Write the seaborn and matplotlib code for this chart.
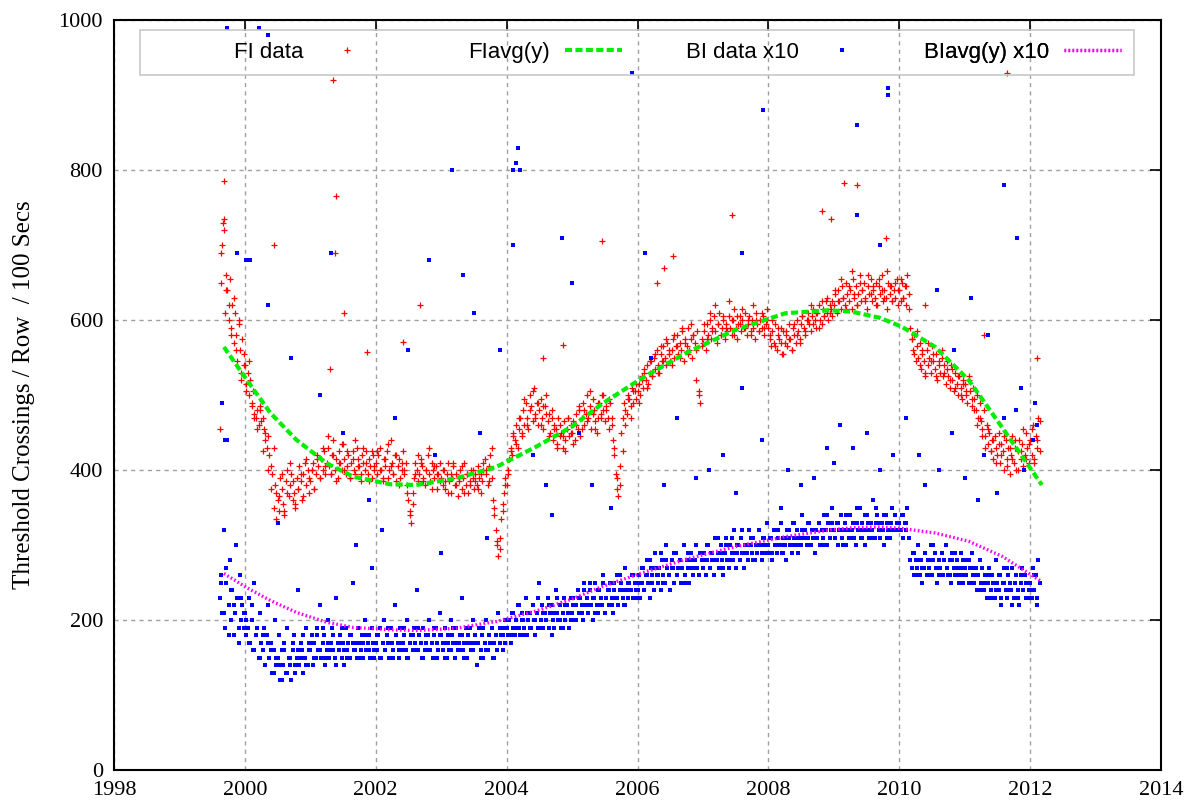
import numpy as np
import pandas as pd
import seaborn as sns
import matplotlib.pyplot as plt
from matplotlib.lines import Line2D
from matplotlib.patches import Rectangle

# FI readings, roughly weekly, one list per year
fi_1999 = [455, 650, 700, 735, 610, 660, 640, 600, 655, 590, 620, 570, 610, 580, 545, 600, 560, 530, 575, 540]
fi_2000 = [540, 515, 530, 500, 520, 490, 505, 475, 470, 480, 460, 485, 465, 470, 455, 440, 430, 445, 420, 405,
           395, 430, 380, 370, 360, 345, 390, 375, 355, 340, 385, 400, 365, 380, 395, 360, 370, 350, 390, 375,
           405, 385, 360, 395, 410, 380, 400, 370]
fi_2001 = [385, 400, 410, 375, 395, 420, 405, 390, 415, 400, 425, 395, 410, 430, 405, 395, 420, 440, 400, 415,
           390, 425, 410, 400, 435, 415, 395, 405, 420, 390, 410, 425, 400, 395, 430, 415, 405, 385, 420, 410,
           400, 425, 395, 415, 405, 390, 420, 400]
fi_2002 = [410, 395, 420, 430, 400, 385, 415, 405, 425, 390, 400, 440, 410, 395, 420, 385, 405, 415, 390, 400,
           425, 395, 410, 380, 360, 345, 330, 370, 390, 410, 400, 385, 395, 415, 405, 390, 380, 400, 420, 395,
           385, 410, 400, 390, 405, 375, 395, 410]
fi_2003 = [390, 380, 400, 375, 395, 410, 385, 370, 390, 405, 380, 395, 365, 385, 400, 375, 390, 410, 380, 395,
           370, 385, 400, 390, 375, 395, 380, 405, 390, 370, 385, 400, 415, 395, 380, 405, 420, 390, 360, 340,
           320, 300, 285, 310, 335, 355, 370, 390]
fi_2004 = [380, 400, 415, 430, 420, 445, 440, 460, 430, 455, 470, 445, 480, 460, 490, 470, 455, 500, 485, 465,
           510, 475, 490, 460, 480, 495, 470, 455, 485, 500, 465, 475, 450, 470, 440, 460, 455, 435, 470, 445,
           450, 430, 465, 440, 455, 470, 445, 460]
fi_2005 = [450, 465, 440, 475, 455, 480, 445, 470, 490, 460, 475, 500, 470, 485, 455, 495, 480, 465, 450, 470,
           490, 475, 500, 480, 465, 485, 470, 455, 490, 460, 440, 420, 395, 375, 365, 405, 450, 470, 490, 480,
           475, 500, 495, 485, 510, 490, 505, 515]
fi_2006 = [505, 515, 500, 525, 510, 535, 520, 540, 515, 530, 545, 525, 550, 535, 560, 540, 530, 555, 545, 565,
           550, 540, 570, 555, 545, 560, 575, 550, 565, 580, 555, 570, 560, 585, 545, 575, 565, 590, 560, 575,
           550, 580, 570, 560, 585, 500, 490, 575]
fi_2007 = [570, 585, 560, 595, 580, 600, 575, 590, 605, 585, 570, 595, 610, 580, 590, 600, 575, 595, 585, 605,
           590, 580, 600, 615, 590, 575, 595, 605, 585, 600, 590, 610, 580, 595, 605, 585, 600, 590, 575, 610,
           595, 585, 600, 590, 605, 580, 595, 600]
fi_2008 = [590, 575, 565, 585, 570, 595, 560, 580, 575, 590, 555, 585, 570, 580, 565, 595, 575, 560, 590, 580,
           570, 600, 585, 575, 595, 605, 590, 580, 600, 610, 595, 585, 605, 615, 600, 590, 610, 620, 600, 595,
           615, 605, 625, 610, 600, 620, 615, 605]
fi_2009 = [620, 635, 610, 640, 625, 615, 645, 630, 620, 650, 635, 625, 640, 615, 655, 630, 645, 620, 635, 660,
           625, 640, 650, 630, 615, 645, 635, 655, 625, 640, 630, 650, 620, 645, 635, 660, 625, 640, 630, 615,
           650, 635, 645, 625, 640, 630, 655, 620]
fi_2010 = [640, 625, 650, 630, 645, 620, 660, 635, 590, 575, 560, 580, 545, 565, 550, 570, 535, 555, 545, 525,
           560, 540, 550, 530, 565, 545, 535, 555, 520, 545, 530, 550, 525, 540, 515, 535, 525, 510, 540, 520,
           505, 530, 515, 500, 525, 510, 495, 520]
fi_2011 = [515, 500, 490, 520, 505, 485, 510, 495, 480, 500, 470, 490, 465, 455, 480, 445, 460, 435, 450, 425,
           440, 415, 445, 430, 420, 450, 410, 435, 425, 400, 440, 415, 430, 395, 420, 445, 410, 430, 400, 425,
           440, 415, 435, 405, 420, 450, 430, 410]
fi_2012 = [440, 420, 460, 410, 445, 430, 470, 425]

# second pass of FI readings, taken between the first ones
fi2_1999 = [690, 720, 640, 620, 580, 630, 560, 595, 520, 555]
fi2_2000 = [505, 545, 485, 470, 455, 480, 425, 450, 400, 375, 350, 335, 365, 395, 345, 370, 410, 385, 355, 375,
            395, 365, 415, 390]
fi2_2001 = [400, 375, 415, 390, 430, 405, 445, 395, 420, 385, 410, 435, 400, 425, 390, 415, 440, 405, 395, 430,
            410, 385, 425, 405]
fi2_2002 = [425, 400, 390, 415, 435, 405, 395, 420, 380, 410, 400, 370, 340, 355, 395, 420, 410, 385, 400, 430,
            375, 405, 395, 385]
fi2_2003 = [400, 385, 370, 395, 410, 380, 390, 405, 370, 395, 380, 400, 385, 375, 395, 410, 400, 385, 430, 350,
            305, 295, 345, 380]
fi2_2004 = [395, 425, 450, 435, 470, 450, 495, 460, 480, 505, 470, 490, 460, 485, 475, 445, 480, 455, 430, 460,
            445, 425, 470, 450]
fi2_2005 = [435, 460, 485, 455, 480, 465, 505, 475, 455, 490, 470, 500, 480, 495, 470, 430, 390, 380, 425, 460,
            495, 470, 505, 495]
fi2_2006 = [490, 520, 530, 510, 545, 525, 555, 530, 565, 545, 575, 560, 540, 580, 565, 550, 590, 570, 555, 595,
            580, 520, 505, 565]
fi2_2007 = [595, 575, 610, 585, 620, 595, 580, 605, 590, 625, 600, 580, 605, 595, 615, 590, 600, 580, 620, 600,
            585, 610, 590, 615]
fi2_2008 = [580, 600, 565, 590, 570, 555, 585, 575, 560, 595, 580, 570, 605, 585, 600, 620, 595, 610, 590, 625,
            605, 630, 610, 625]
fi2_2009 = [640, 625, 655, 630, 615, 645, 665, 635, 620, 650, 640, 625, 660, 635, 645, 620, 655, 640, 630, 665,
            645, 625, 650, 640]
fi2_2010 = [655, 630, 645, 615, 575, 555, 585, 540, 560, 530, 570, 545, 555, 525, 540, 560, 530, 545, 520, 535,
            510, 525, 500, 515]
fi2_2011 = [505, 525, 495, 480, 460, 470, 445, 430, 455, 425, 440, 410, 435, 420, 445, 405, 430, 415, 440, 400,
            425, 455, 415, 435]
fi2_2012 = [455, 415, 440, 465]

fi_out_x = [1999.68, 1999.66, 2000.45, 2001.35, 2001.4, 2001.38, 2001.51, 2001.3, 2001.86, 2002.42, 2002.68,
            2004.55, 2004.86, 2005.45, 2006.3, 2006.4, 2006.55, 2007.45, 2008.82, 2008.95, 2009.16, 2009.36,
            2009.8, 2010.4, 2011.3, 2011.65, 2012.1]
fi_out_y = [785, 730, 700, 920, 765, 690, 610, 535, 558, 571, 620, 549, 567, 705, 650, 670, 685, 740, 745,
            735, 783, 780, 710, 620, 580, 930, 550]

# BI readings x10, same sampling
bi_1999 = [230, 260, 210, 320, 190, 250, 440, 220, 280, 200, 240, 180, 210, 300, 230, 170, 260, 200, 220, 190]
bi_2000 = [210, 180, 190, 230, 170, 200, 160, 250, 180, 190, 150, 210, 170, 160, 190, 140, 180, 220, 150, 170,
           130, 160, 200, 140, 150, 180, 120, 160, 140, 170, 130, 190, 150, 140, 120, 160, 180, 130, 150, 240,
           140, 170, 160, 130, 150, 190, 140, 160]
bi_2001 = [160, 180, 140, 170, 150, 190, 160, 220, 150, 170, 180, 140, 160, 200, 150, 170, 190, 160, 150, 230,
           170, 160, 180, 150, 170, 140, 190, 160, 170, 150, 180, 250, 160, 170, 150, 190, 170, 160, 180, 150,
           200, 160, 170, 180, 150, 270, 170, 160]
bi_2002 = [170, 160, 180, 190, 150, 170, 200, 160, 180, 170, 150, 190, 170, 160, 220, 180, 170, 150, 190, 160,
           170, 180, 160, 200, 150, 170, 180, 160, 190, 170, 240, 160, 180, 170, 150, 190, 160, 170, 180, 200,
           160, 170, 150, 180, 190, 170, 160, 210]
bi_2003 = [180, 160, 170, 190, 150, 170, 160, 200, 180, 170, 150, 190, 160, 170, 180, 230, 160, 170, 190, 150,
           180, 170, 160, 200, 170, 180, 140, 170, 190, 160, 180, 150, 170, 200, 160, 180, 170, 190, 150, 170,
           180, 160, 210, 170, 180, 160, 190, 200]
bi_2004 = [190, 180, 200, 170, 210, 190, 180, 200, 220, 190, 180, 210, 200, 190, 230, 180, 200, 210, 190, 220,
           200, 180, 210, 190, 250, 200, 220, 190, 210, 200, 230, 190, 210, 220, 200, 190, 240, 210, 200, 220,
           190, 210, 230, 200, 220, 210, 190, 230]
bi_2005 = [210, 230, 200, 220, 240, 210, 230, 220, 200, 250, 220, 230, 210, 240, 220, 200, 230, 250, 220, 210,
           240, 230, 220, 260, 210, 230, 240, 220, 250, 230, 210, 240, 230, 260, 220, 240, 250, 230, 220, 270,
           240, 230, 250, 240, 260, 230, 250, 240]
bi_2006 = [240, 260, 230, 250, 270, 240, 260, 280, 250, 230, 270, 260, 240, 290, 260, 250, 270, 240, 280, 260,
           250, 300, 270, 260, 240, 280, 270, 250, 290, 260, 270, 280, 250, 270, 300, 260, 280, 270, 250, 290,
           270, 260, 280, 300, 270, 260, 290, 280]
bi_2007 = [270, 290, 260, 280, 300, 270, 290, 280, 260, 310, 280, 290, 270, 300, 280, 260, 290, 310, 280, 270,
           300, 290, 280, 320, 270, 290, 300, 280, 310, 290, 270, 300, 290, 280, 320, 300, 290, 310, 280, 300,
           290, 320, 300, 280, 310, 300, 290, 330]
bi_2008 = [300, 290, 310, 280, 320, 300, 290, 310, 300, 330, 290, 310, 300, 280, 320, 310, 300, 290, 330, 310,
           300, 320, 290, 310, 300, 340, 310, 320, 300, 310, 330, 300, 320, 310, 290, 320, 310, 330, 300, 320,
           310, 340, 320, 300, 330, 310, 320, 350]
bi_2009 = [320, 310, 330, 300, 320, 340, 310, 320, 330, 300, 320, 310, 340, 320, 330, 310, 300, 330, 320, 350,
           310, 330, 320, 300, 340, 320, 310, 330, 320, 360, 310, 330, 340, 320, 310, 330, 320, 300, 340, 330,
           320, 310, 330, 350, 320, 340, 330, 320]
bi_2010 = [330, 320, 340, 310, 330, 320, 350, 310, 280, 270, 290, 260, 280, 270, 300, 260, 280, 250, 270, 290,
           260, 280, 270, 300, 260, 280, 290, 270, 250, 280, 270, 290, 260, 280, 300, 270, 260, 280, 250, 290,
           270, 260, 280, 270, 250, 290, 260, 280]
bi_2011 = [270, 260, 280, 250, 270, 290, 260, 250, 270, 240, 260, 280, 250, 270, 240, 260, 230, 250, 270, 240,
           260, 250, 230, 280, 250, 240, 260, 220, 250, 270, 240, 230, 260, 250, 240, 270, 230, 250, 260, 240,
           220, 250, 270, 240, 260, 230, 250, 240]
bi_2012 = [250, 230, 270, 240, 260, 220, 280, 250]

bi2_1999 = [250, 210, 270, 180, 240, 220, 300, 190, 230, 210]
bi2_2000 = [200, 170, 220, 160, 190, 150, 180, 140, 170, 160, 130, 150, 140, 120, 160, 130, 150, 170, 140, 160,
            150, 180, 140, 170]
bi2_2001 = [170, 150, 180, 160, 190, 150, 170, 160, 180, 140, 170, 190, 160, 150, 180, 170, 160, 190, 150, 170,
            180, 160, 190, 150]
bi2_2002 = [180, 150, 170, 160, 190, 170, 150, 180, 160, 170, 190, 150, 170, 180, 160, 190, 170, 150, 180, 160,
            170, 190, 150, 180]
bi2_2003 = [170, 150, 180, 160, 190, 170, 160, 180, 150, 170, 190, 160, 180, 170, 150, 190, 160, 180, 170, 150,
            160, 190, 180, 170]
bi2_2004 = [200, 180, 210, 190, 220, 200, 180, 210, 190, 220, 200, 230, 190, 210, 200, 220, 180, 210, 230, 200,
            190, 220, 210, 200]
bi2_2005 = [220, 200, 230, 210, 240, 220, 250, 230, 210, 240, 220, 250, 230, 240, 220, 250, 230, 260, 240, 220,
            250, 240, 260, 230]
bi2_2006 = [250, 270, 240, 260, 280, 250, 270, 260, 290, 250, 280, 260, 270, 290, 260, 280, 270, 250, 290, 280,
            270, 300, 260, 290]
bi2_2007 = [280, 300, 270, 290, 280, 310, 290, 270, 300, 280, 310, 290, 300, 280, 320, 290, 300, 310, 280, 300,
            320, 290, 310, 300]
bi2_2008 = [310, 290, 300, 320, 300, 290, 310, 320, 300, 330, 310, 300, 320, 310, 330, 300, 320, 310, 330, 320,
            300, 340, 310, 330]
bi2_2009 = [310, 330, 320, 300, 340, 320, 310, 330, 350, 320, 310, 340, 330, 320, 310, 350, 330, 320, 340, 310,
            330, 320, 340, 330]
bi2_2010 = [320, 340, 330, 310, 270, 290, 260, 280, 270, 290, 260, 280, 300, 270, 260, 290, 280, 270, 260, 280,
            290, 260, 270, 250]
bi2_2011 = [260, 280, 250, 270, 260, 240, 270, 250, 260, 230, 250, 240, 260, 230, 250, 270, 240, 220, 250, 230,
            260, 240, 250, 230]
bi2_2012 = [240, 260, 230, 250]

bi_out_x = [1999.72, 2000.22, 2000.36, 1999.88, 2000.02, 2000.08, 2001.32, 2002.82, 2003.34, 2003.17, 2004.1,
            2004.15, 2004.17, 2004.2, 2004.1, 2004.84, 2006.12, 2007.6, 2007.92, 2009.36, 2009.83, 2009.83,
            2009.36, 2009.7, 2005.92, 2005.25, 2010.57, 2011.1, 2011.36, 2010.83, 2011.86, 2012.07, 2011.78,
            2011.6, 2011.8, 1999.65, 1999.7, 2000.35, 2000.7, 2001.15, 2001.5, 2001.9, 2002.5, 2002.3, 2002.9,
            2003.5, 2003.6, 2003.9, 2004.4, 2004.6, 2005.0, 2005.1, 2005.3, 2006.2, 2006.6, 2006.9, 2007.3,
            2007.6, 2007.9, 2008.2, 2008.5, 2008.9, 2009.1, 2009.3, 2009.5, 2009.7, 2010.1, 2010.3, 2010.6,
            2010.8, 2011.0, 2011.3, 2011.6, 2011.9, 2012.05, 2012.1, 2000.5, 2001.7, 2002.1, 2003.0, 2003.7,
            2004.7, 2005.6, 2006.4, 2007.1, 2007.5, 2008.3, 2008.7, 2009.0, 2009.9, 2010.4, 2011.2, 2011.5]
bi_out_y = [990, 990, 980, 690, 680, 680, 690, 680, 660, 800, 800, 810, 830, 800, 700, 710, 690, 690, 880, 860,
            910, 900, 740, 700, 930, 960, 640, 630, 580, 560, 510, 490, 480, 780, 710, 490, 440, 620, 550, 500,
            450, 360, 560, 470, 420, 610, 450, 560, 420, 380, 650, 450, 380, 550, 470, 390, 420, 510, 440, 350,
            380, 430, 460, 430, 450, 400, 470, 420, 400, 450, 390, 420, 470, 400, 440, 460, 330, 300, 320, 290,
            310, 340, 350, 380, 400, 370, 400, 390, 410, 420, 380, 360, 370]

# fitted averages
fit_x = [1999.68, 2000.03, 2000.39, 2000.79, 2001.25, 2001.66, 2002.22, 2002.62, 2003.23, 2003.84, 2004.45,
         2005.0, 2005.47, 2006.08, 2006.74, 2007.5, 2008.26, 2008.93, 2009.28, 2009.7, 2010.04, 2010.55,
         2011.06, 2011.57, 2012.18]
fi_avg = [564, 520, 476, 440, 409, 391, 381, 380, 389, 404, 431, 458, 489, 523, 556, 587, 609, 613, 611, 603,
          591, 564, 520, 457, 380]
bi_avg = [262, 243, 226, 210, 197, 190, 187, 186, 189, 198, 212, 228, 245, 263, 281, 298, 311, 320, 323, 324,
          322, 316, 305, 285, 251]

seg_start = [1999.62] + list(range(2000, 2013))
seg_end = list(range(2000, 2013)) + [2012.17]
fi_lists = [fi_1999, fi_2000, fi_2001, fi_2002, fi_2003, fi_2004, fi_2005, fi_2006, fi_2007, fi_2008, fi_2009,
            fi_2010, fi_2011, fi_2012]
fi2_lists = [fi2_1999, fi2_2000, fi2_2001, fi2_2002, fi2_2003, fi2_2004, fi2_2005, fi2_2006, fi2_2007, fi2_2008,
             fi2_2009, fi2_2010, fi2_2011, fi2_2012]
bi_lists = [bi_1999, bi_2000, bi_2001, bi_2002, bi_2003, bi_2004, bi_2005, bi_2006, bi_2007, bi_2008, bi_2009,
            bi_2010, bi_2011, bi_2012]
bi2_lists = [bi2_1999, bi2_2000, bi2_2001, bi2_2002, bi2_2003, bi2_2004, bi2_2005, bi2_2006, bi2_2007, bi2_2008,
             bi2_2009, bi2_2010, bi2_2011, bi2_2012]


def sample_times(start, end, vals, shift=0.0):
    return start + (end - start) * (np.arange(len(vals)) + shift) / len(vals)


def build(first, second, out_x, out_y):
    xs = [sample_times(a, b, v) for a, b, v in zip(seg_start, seg_end, first)]
    xs += [sample_times(a, b, v, 0.5) for a, b, v in zip(seg_start, seg_end, second)]
    ys = [np.array(v, float) for v in first + second]
    return pd.DataFrame({'year': np.concatenate(xs + [out_x]), 'val': np.concatenate(ys + [out_y])})


fi_df = build(fi_lists, fi2_lists, fi_out_x, fi_out_y)
bi_df = build(bi_lists, bi2_lists, bi_out_x, bi_out_y)
fit_df = pd.DataFrame({'year': fit_x, 'fi': fi_avg, 'bi': bi_avg})

GREEN = '#00ee00'
MAGENTA = '#ff00ff'
green_ls = (0, (1.7, 0.8))
magenta_ls = (0, (0.5, 0.7))

sns.set_style('white')
plt.rcParams['font.family'] = ['Liberation Serif', 'DejaVu Serif']
plt.rcParams['text.color'] = 'black'
plt.rcParams['axes.labelcolor'] = 'black'

fig = plt.figure(figsize=(11.96, 8.06), dpi=100)
ax = fig.add_axes([114 / 1196, 1 - 770 / 806, 1047 / 1196, 750 / 806])

sns.scatterplot(data=fi_df, x='year', y='val', marker='+', color='red', s=16, linewidth=0.9, ax=ax, zorder=3)
sns.lineplot(data=fit_df, x='year', y='fi', color=GREEN, linewidth=3.0, ax=ax, zorder=4, linestyle=green_ls)
sns.scatterplot(data=bi_df, x='year', y='val', marker='s', color='blue', s=6, linewidth=0, ax=ax, zorder=5)
sns.lineplot(data=fit_df, x='year', y='bi', color=MAGENTA, linewidth=2.4, ax=ax, zorder=6, linestyle=magenta_ls)

ax.set_xlim(1998, 2014)
ax.set_ylim(0, 1000)
ax.set_xticks(range(1998, 2015, 2))
ax.set_yticks(range(0, 1001, 200))
ax.set_xlabel('')
ax.set_ylabel('Threshold Crossings / Row  / 100 Secs', fontsize=18, labelpad=17, color='black')
ax.grid(True, color='#a0a0a0', linestyle=(0, (3, 3)), linewidth=1.0)
ax.tick_params(direction='in', length=8, width=1.2, labelsize=16, top=True, right=True, pad=8,
               colors='black')
for sp in ax.spines.values():
    sp.set_color('black')
    sp.set_linewidth(1.5)

# gnuplot-style key: one row, text right-justified before each sample
handles = [
    Line2D([], [], color='red', marker='+', linestyle='none', markersize=4, markeredgewidth=0.9),
    Line2D([], [], color=GREEN, linewidth=3.0, linestyle=green_ls),
    Line2D([], [], color='blue', marker='s', linestyle='none', markersize=2.5, markeredgewidth=0),
    Line2D([], [], color=MAGENTA, linewidth=2.4, linestyle=magenta_ls),
]
labels = ['FI data', 'FIavg(y)', 'BI data x10', 'BIavg(y) x10']
col_right = [0.2502, 0.4852, 0.7230, 0.9618]
for h, lab, xr in zip(handles, labels, col_right):
    leg = ax.legend([h], [lab], loc='center right', bbox_to_anchor=(xr, 0.957), frameon=False,
                    markerfirst=False, handlelength=2.57, handletextpad=0.68, borderpad=0, borderaxespad=0,
                    labelcolor='black', prop={'family': ['Liberation Sans', 'DejaVu Sans'], 'size': 16})
    ax.add_artist(leg)
ax.add_patch(Rectangle((0.0248, 0.927), 0.9494, 0.06, transform=ax.transAxes, fill=False,
                       edgecolor='#c8c8c8', linewidth=1.2, zorder=7))

fig.savefig('out.png', dpi=100)
